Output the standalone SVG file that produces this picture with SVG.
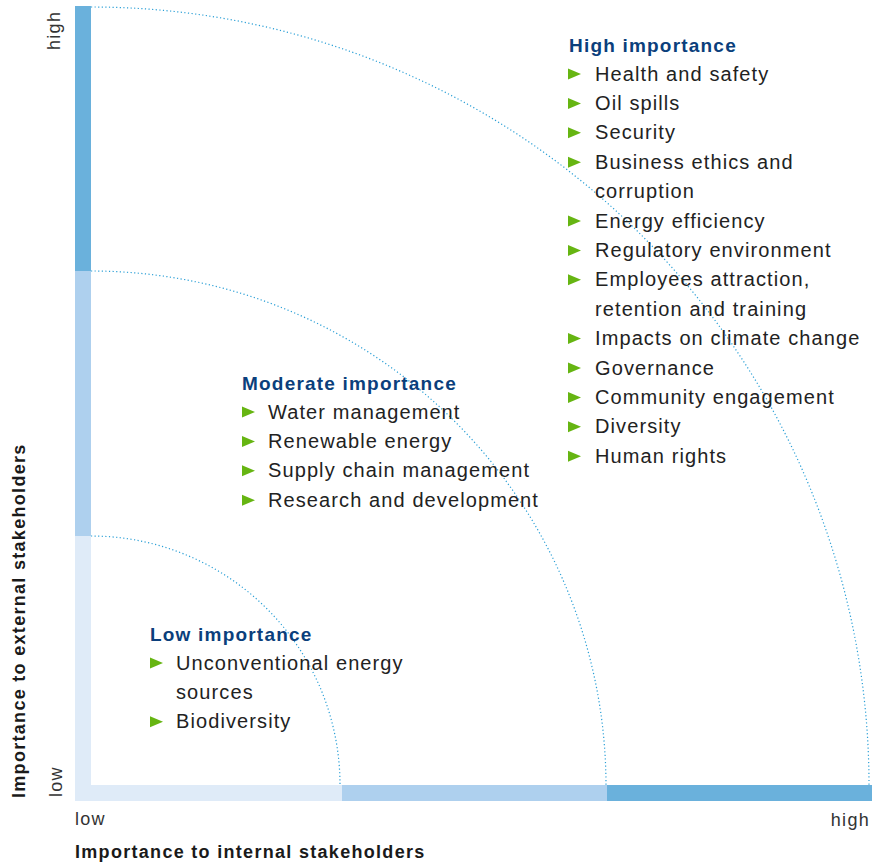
<svg xmlns="http://www.w3.org/2000/svg" width="877" height="865" viewBox="0 0 877 865">
<defs>
<style>
.arc{fill:none;stroke:#2a9fd6;stroke-width:1.2;stroke-dasharray:1.2 2.4}
.ttl{font-family:"Liberation Sans",Arial,sans-serif;font-weight:bold;font-size:19px;letter-spacing:1.2px;fill:#0b3f7c}
.itm{font-family:"Liberation Sans",Arial,sans-serif;font-size:20px;letter-spacing:1.1px;fill:#222}
.ax{font-family:"Liberation Sans",Arial,sans-serif;font-size:18px;letter-spacing:1.3px;fill:#333}
.axt{font-family:"Liberation Sans",Arial,sans-serif;font-weight:bold;font-size:18px;letter-spacing:1.3px;fill:#1a1a1a}
.bul{fill:#66b512}
</style>
<polygon id="tri" class="bul" points="-1,-5.5 12,0 -1,5.5"/>
</defs>
<rect width="877" height="865" fill="#fff"/>
<g id="axes">
<rect x="75" y="6" width="16" height="265" fill="#6ab1dc"/>
<rect x="75" y="271" width="16" height="265" fill="#aed0ee"/>
<rect x="75" y="536" width="16" height="265" fill="#dfebf8"/>
<rect x="91" y="785" width="251" height="16" fill="#dfebf8"/>
<rect x="342" y="785" width="265" height="16" fill="#aed0ee"/>
<rect x="607" y="785" width="265" height="16" fill="#6ab1dc"/>
<text class="ax" transform="translate(60,50) rotate(-90)">high</text>
<text class="ax" transform="translate(62,797) rotate(-90)">low</text>
<text class="ax" x="75" y="825">low</text>
<text class="ax" x="870" y="826" text-anchor="end">high</text>
<text class="axt" x="75" y="858">Importance to internal stakeholders</text>
<text class="axt" transform="translate(25,798) rotate(-90)">Importance to external stakeholders</text>
</g>
<g id="connectors">
<path class="arc" d="M91 7 A778 778 0 0 1 869 785"/>
<path class="arc" d="M91 271 A515 515 0 0 1 606 785"/>
<path class="arc" d="M91 536 A249 249 0 0 1 340 785"/>
</g>
<g id="high">
<text class="ttl" x="569" y="52">High importance</text>
<use href="#tri" x="569" y="74"/><text class="itm" x="595" y="80.5">Health and safety</text>
<use href="#tri" x="569" y="103.4"/><text class="itm" x="595" y="110">Oil spills</text>
<use href="#tri" x="569" y="132.8"/><text class="itm" x="595" y="139.3">Security</text>
<use href="#tri" x="569" y="162.2"/><text class="itm" x="595" y="168.7">Business ethics and</text>
<text class="itm" x="595" y="198.1">corruption</text>
<use href="#tri" x="569" y="221"/><text class="itm" x="595" y="227.5">Energy efficiency</text>
<use href="#tri" x="569" y="250.4"/><text class="itm" x="595" y="256.9">Regulatory environment</text>
<use href="#tri" x="569" y="279.8"/><text class="itm" x="595" y="286.3">Employees attraction,</text>
<text class="itm" x="595" y="315.7">retention and training</text>
<use href="#tri" x="569" y="338.6"/><text class="itm" x="595" y="345.1">Impacts on climate change</text>
<use href="#tri" x="569" y="368"/><text class="itm" x="595" y="374.5">Governance</text>
<use href="#tri" x="569" y="397.4"/><text class="itm" x="595" y="403.9">Community engagement</text>
<use href="#tri" x="569" y="426.8"/><text class="itm" x="595" y="433.3">Diversity</text>
<use href="#tri" x="569" y="456.2"/><text class="itm" x="595" y="462.7">Human rights</text>
</g>
<g id="moderate">
<text class="ttl" x="242" y="389.5">Moderate importance</text>
<use href="#tri" x="243" y="412"/><text class="itm" x="268" y="418.5">Water management</text>
<use href="#tri" x="243" y="441.4"/><text class="itm" x="268" y="447.9">Renewable energy</text>
<use href="#tri" x="243" y="470.8"/><text class="itm" x="268" y="477.3">Supply chain management</text>
<use href="#tri" x="243" y="500.2"/><text class="itm" x="268" y="506.7">Research and development</text>
</g>
<g id="low">
<text class="ttl" x="150" y="640.5">Low importance</text>
<use href="#tri" x="151" y="663"/><text class="itm" x="176" y="669.5">Unconventional energy</text>
<text class="itm" x="176" y="698.9">sources</text>
<use href="#tri" x="151" y="721.8"/><text class="itm" x="176" y="728.3">Biodiversity</text>
</g>
</svg>
